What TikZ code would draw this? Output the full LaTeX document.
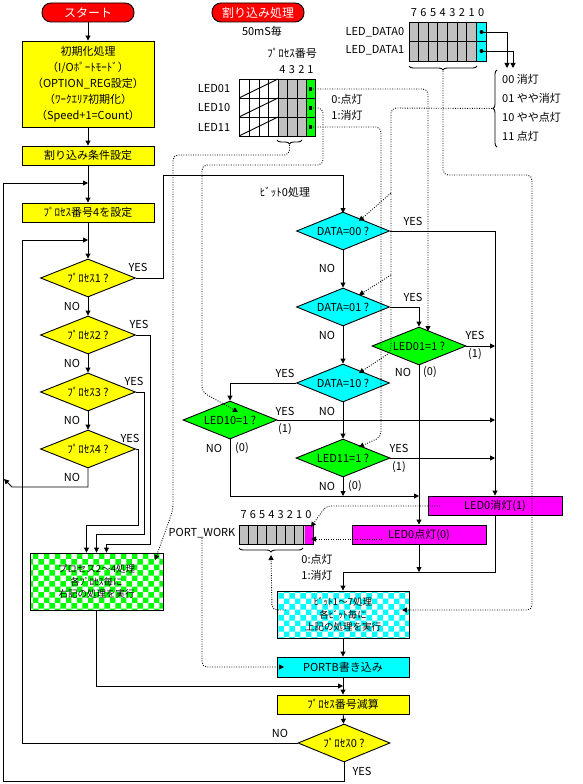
\documentclass[tikz,border=0pt]{standalone}
\usepackage{fontspec}
\setmainfont{Noto Sans CJK JP}
\usetikzlibrary{shapes.geometric,arrows.meta,patterns,decorations.pathreplacing}
\definecolor{cyanc}{RGB}{0,255,255}
\definecolor{greenc}{RGB}{0,255,0}
\definecolor{magc}{RGB}{255,0,255}
\definecolor{yelc}{RGB}{255,255,0}
\definecolor{redc}{RGB}{255,0,0}
\definecolor{grayc}{RGB}{192,192,192}
\tikzset{
  fs/.style={font=\fontsize{11}{15}\selectfont},
  fsm/.style={font=\fontsize{9.5}{12.5}\selectfont},
  ln/.style={line width=0.9pt},
  box/.style={fs, draw, ln, rectangle, inner sep=0pt, minimum width=132pt, minimum height=19pt, align=center},
  dia/.style={fs, draw, ln, diamond, aspect=2.5, inner sep=0pt, minimum width=94pt, minimum height=38pt},
  term/.style={font=\fontsize{12}{14}\selectfont, draw, ln, fill=redc, text=white, rounded corners=9pt, minimum width=92pt, minimum height=19pt, inner sep=0pt},
  lbl/.style={fs, inner sep=0pt},
  arr/.style={ln, -{Triangle[length=5pt,width=5pt]}},
  dots/.style={line width=0.9pt, dash pattern=on 0.9pt off 1.5pt, rounded corners=5pt},
  darr/.style={dots, -{Triangle[length=5pt,width=5pt]}},
  brc/.style={ln, decorate, decoration={brace, amplitude=4pt}},
  sqmark/.style={fill=black, inner sep=0pt, minimum size=3.5pt},
  rdmark/.style={circle, fill=black, inner sep=0pt, minimum size=4pt},
}
\newcommand\mylab[3]{\node[lbl] (#1) at (#2) {#3};}
\begin{document}
\begin{tikzpicture}[x=1pt,y=-1pt]
\fill[white] (0,0) rectangle (583,784);
\useasboundingbox (0,0) rectangle (583,784);

% ---------------- left column
\node[term] (start) at (88,12.5) {スタート};
\node[box, fill=yelc, minimum height=86pt, font=\fontsize{11}{16}\selectfont] (init) at (88,84)
  {初期化処理\\（I/Oﾎﾟｰﾄﾓｰﾄﾞ）\\（OPTION\_REG設定）\\（ﾜｰｸｴﾘｱ初期化）\\（Speed+1=Count）};
\node[box, fill=yelc] (intc) at (88,155.5) {割り込み条件設定};
\node[box, fill=yelc] (setp) at (88,212.5) {ﾌﾟﾛｾｽ番号4を設定};
\node[dia, fill=yelc, minimum width=95pt] (p1) at (88,278) {ﾌﾟﾛｾｽ1 ?};
\node[dia, fill=yelc, minimum width=95pt] (p2) at (88,335) {ﾌﾟﾛｾｽ2 ?};
\node[dia, fill=yelc, minimum width=95pt] (p3) at (88,392) {ﾌﾟﾛｾｽ3 ?};
\node[dia, fill=yelc, minimum width=95pt] (p4) at (88,449) {ﾌﾟﾛｾｽ4 ?};
\node[box, fsm, minimum width=133pt, minimum height=57pt, pattern=checkerboard, pattern color=greenc] (g) at (96.5,581.5)
  {プロセス2～4処理\\各ﾌﾟﾛｾｽ毎に\\右記の処理を実行};

\coordinate (j1) at (88,183);
\coordinate (j2) at (88,240);
\coordinate (j3) at (4,479);
\coordinate (j4) at (343,686);

\draw[arr] (start) -- (init);
\draw[arr] (init) -- (intc);
\draw[arr] (intc) -- (setp);
\draw[arr] (setp) -- (p1);
\draw[arr] (p1) -- (p2);
\draw[arr] (p2) -- (p3);
\draw[arr] (p3) -- (p4);
\draw[arr] (p4.south) |- (12,487) -- (j3);

\mylab{y1}{138,267}{YES} \mylab{n1}{72,306}{NO}
\mylab{y2}{139,324}{YES} \mylab{n2}{72,363}{NO}
\mylab{y3}{134,381}{YES} \mylab{n3}{72,420}{NO}
\mylab{y4}{130,438}{YES} \mylab{n4}{72,477}{NO}

\draw[arr] (p2.east) -| (150,544) -| ([xshift=10pt]g.north);
\draw[arr] (p3.east) -| (144,534) -| (g.north);
\draw[arr] (p4.east) -| (138,525) -| ([xshift=-10pt]g.north);
\draw[arr] (p1.east) -| (163,175) -| (343,213);
\mylab{bit0}{285,192}{ﾋﾞｯﾄ0処理}

% ---------------- right column
\node[term] (irq) at (258,12.5) {割り込み処理};
\mylab{t50}{262,31}{50mS毎}
\node[dia, fill=cyanc, minimum width=93pt] (d0) at (343,231) {DATA=00 ?};
\node[dia, fill=cyanc, minimum width=93pt] (d1) at (343,307) {DATA=01 ?};
\node[dia, fill=cyanc, minimum width=93pt] (d2) at (343,383) {DATA=10 ?};
\node[dia, fill=greenc] (l01) at (419,346) {LED01=1 ?};
\node[dia, fill=greenc] (l10) at (230,420) {LED10=1 ?};
\node[dia, fill=greenc] (l11) at (343,458) {LED11=1 ?};
\node[box, fill=magc, minimum width=134pt] (loff) at (495,505.5) {LED0消灯(1)};
\node[box, fill=magc, minimum width=134pt] (lon) at (419,534.5) {LED0点灯(0)};
\node[box, fsm, minimum height=47pt, pattern=checkerboard, pattern color=cyanc] (b17) at (343,614.5)
  {ﾋﾞｯﾄ1～7処理\\各ﾋﾞｯﾄ毎に\\上記の処理を実行};
\node[box, fill=cyanc, minimum height=20pt] (portb) at (343,667) {PORTB書き込み};
\node[box, fill=yelc] (dec) at (343,704.5) {ﾌﾟﾛｾｽ番号減算};
\node[dia, fill=yelc, minimum width=92pt] (p0) at (344,743) {ﾌﾟﾛｾｽ0 ?};

\coordinate (j5) at (419,496);
\coordinate (j6) at (343,496);
\coordinate (j7) at (343,572);

\draw[arr] (d0) -- (d1);
\draw[arr] (d1) -- (d2);
\draw[arr] (d2) -- (l11);
\draw[arr] (d0.east) -| (loff.north);
\draw[arr] (d1.east) -| (l01.north);
\draw[arr] (d2.west) -| (l10.north);
\draw[arr] (l01.east) -- (l01.east -| loff.north);
\draw[arr] (l10.east) -- (l10.east -| loff.north);
\draw[arr] (l11.east) -- (l11.east -| loff.north);
\draw[arr] (l01.south) -- (lon.north);
\draw[arr] (l10.south) |- (j5);
\draw[arr] (l11.south) -- (j6);
\draw[arr] (loff.south) |- (j7) -- (b17.north);
\draw[arr] (lon.south) -- (lon.south |- j7);
\draw[arr] (b17) -- (portb);
\draw[arr] (portb) -- (dec);
\draw[arr] (dec) -- (p0);
\draw[arr] (g.south) |- (j4);
\draw[arr] (p0.west) -| (22,240) -- (j2);
\draw[arr] (p0.south) |- (3,781) |- (j1);

\mylab{yd0}{413,221}{YES} \mylab{nd0}{327,268}{NO}
\mylab{yd1}{413,297}{YES} \mylab{nd1}{327,335}{NO}
\mylab{yd2}{285,373}{YES} \mylab{nd2}{327,411}{NO}
\mylab{yl01}{475,335}{YES} \mylab{ol01}{475,354}{(1)}
\mylab{nl01}{403,372}{NO} \mylab{zl01}{430,372}{(0)}
\mylab{yl10}{285,411}{YES} \mylab{ol10}{285,429}{(1)}
\mylab{nl10}{214,448}{NO} \mylab{zl10}{242,448}{(0)}
\mylab{yl11}{399,448}{YES} \mylab{ol11}{399,467}{(1)}
\mylab{nl11}{327,486}{NO} \mylab{zl11}{355,486}{(0)}
\mylab{np0}{280,733}{NO} \mylab{yp0}{362,771}{YES}

% ---------------- LED process table
\fill[grayc] (278,79) rectangle (306,136);
\fill[greenc] (306,79) rectangle (315,136);
\draw[ln] (239,79) rectangle (315,136);
\foreach \xx in {249,259,268,278,287,297,306} \draw[ln] (\xx,79) -- (\xx,136);
\draw[ln] (239,98) -- (315,98) (239,117) -- (315,117);
\draw[ln] (239,98) -- (278,79) (239,117) -- (278,98) (239,136) -- (278,117);
\node[sqmark] (m1) at (310.5,89) {};
\node[sqmark] (m2) at (310.5,108) {};
\node[sqmark] (m3) at (310.5,127) {};
\mylab{pnum}{292,53}{ﾌﾟﾛｾｽ番号}
\mylab{c4}{282.5,70}{4} \mylab{c3}{292,70}{3} \mylab{c2}{301.5,70}{2} \mylab{c1}{310.5,70}{1}
\mylab{led01}{214,89}{LED01} \mylab{led10}{214,108}{LED10} \mylab{led11}{214,127}{LED11}
\mylab{on1}{347,99}{0:点灯} \mylab{off1}{347,115}{1:消灯}
\draw[brc] (302,140) -- (277,140);
\coordinate (b1tip) at (289.5,145);

% ---------------- LED_DATA table
\fill[grayc] (409,22) rectangle (477,61);
\fill[cyanc] (477,22) rectangle (486,61);
\draw[ln] (409,22) rectangle (486,61);
\foreach \k in {1,...,7} \draw[ln] (409+9.625*\k,22) -- (409+9.625*\k,61);
\draw[ln] (409,41.5) -- (486,41.5);
\foreach \k in {0,...,7} {\pgfmathtruncatemacro\bb{7-\k}\node[lbl] (dh\k) at (413.8+9.625*\k,13) {\bb};}
\mylab{ld0}{375,32}{LED\_DATA0} \mylab{ld1}{375,50}{LED\_DATA1}
\node[rdmark] (dm0) at (481.5,32) {};
\node[rdmark] (dm1) at (481.5,51) {};
\coordinate (da0) at (507,68);
\coordinate (da1) at (513,68);
\draw[arr] (dm0.center) -| (da0);
\draw[arr] (dm1.center) -| (da1);
\node[lbl, anchor=west] (v00) at (502,79) {00 消灯};
\node[lbl, anchor=west] (v01) at (502,98) {01 やや消灯};
\node[lbl, anchor=west] (v10) at (502,117) {10 やや点灯};
\node[lbl, anchor=west] (v11) at (502,136) {11 点灯};
\draw[brc] (497,147) -- (497,70);
\coordinate (b2tip) at (492,108.5);
\draw[brc] (477,66) -- (409,66);
\coordinate (b3tip) at (443,71);

% ---------------- PORT_WORK table
\fill[grayc] (239,525) rectangle (304.75,544);
\fill[magc] (304.75,525) rectangle (313,544);
\draw[ln] (239,525) rectangle (313,544);
\foreach \k in {1,...,7} \draw[ln] (239+9.25*\k,525) -- (239+9.25*\k,544);
\foreach \k in {0,...,7} {\pgfmathtruncatemacro\bb{7-\k}\node[lbl] (ph\k) at (243.6+9.25*\k,515) {\bb};}
\mylab{pw}{202,533}{PORT\_WORK}
\mylab{on2}{317,559}{0:点灯} \mylab{off2}{317,575}{1:消灯}
\draw[brc] (303,548) -- (239,548);
\coordinate (b4tip) at (271,555);

% ---------------- dotted connectors
\coordinate (gin) at (155,560);
\coordinate (l01in) at (428,331);
\coordinate (l10in) at (238,412);
\coordinate (l11in) at (359,447);
\coordinate (d0in) at (359,221);
\coordinate (d1in) at (359,295);
\coordinate (d2in) at (359,373);
\coordinate (e0) at (391,193);
\coordinate (e1) at (391,275);
\coordinate (b17in) at (402,610);
\coordinate (b17out) at (286,610);
\coordinate (pbin) at (284,667);
\coordinate (loffin) at (440,506);
\coordinate (lonin) at (382,539);
\coordinate (pw0a) at (311,527);
\coordinate (pw0b) at (311,539);

\draw[darr] (b1tip) -- (289.5,155) -- (173,155) -- (173,510) -- (gin);
\draw[darr] (m1.center) -- (428,89) -- (l01in);
\draw[darr] (m2.center) -- (323,108) -- (323,165) -- (202,165) -- (202,392) -- (l10in);
\draw[darr] (m3.center) -- (381,127) -- (381,437) -- (l11in);
\draw[darr] (b2tip) -- (391,108) -- (391,352) -- (d2in);
\draw[darr] (e0) -- (d0in);
\draw[darr] (e1) -- (d1in);
\draw[darr] (b3tip) -- (443,175) -- (532,175) -- (532,610) -- (b17in);
\draw[darr] (pw.south) -- (202,667) -- (pbin);
\draw[darr] (loffin) -- (326,506) -- (pw0a);
\draw[darr] (lonin) -- (pw0b);
\draw[darr] (b17out) -- (272,610) -- (b4tip);
\end{tikzpicture}
\end{document}
